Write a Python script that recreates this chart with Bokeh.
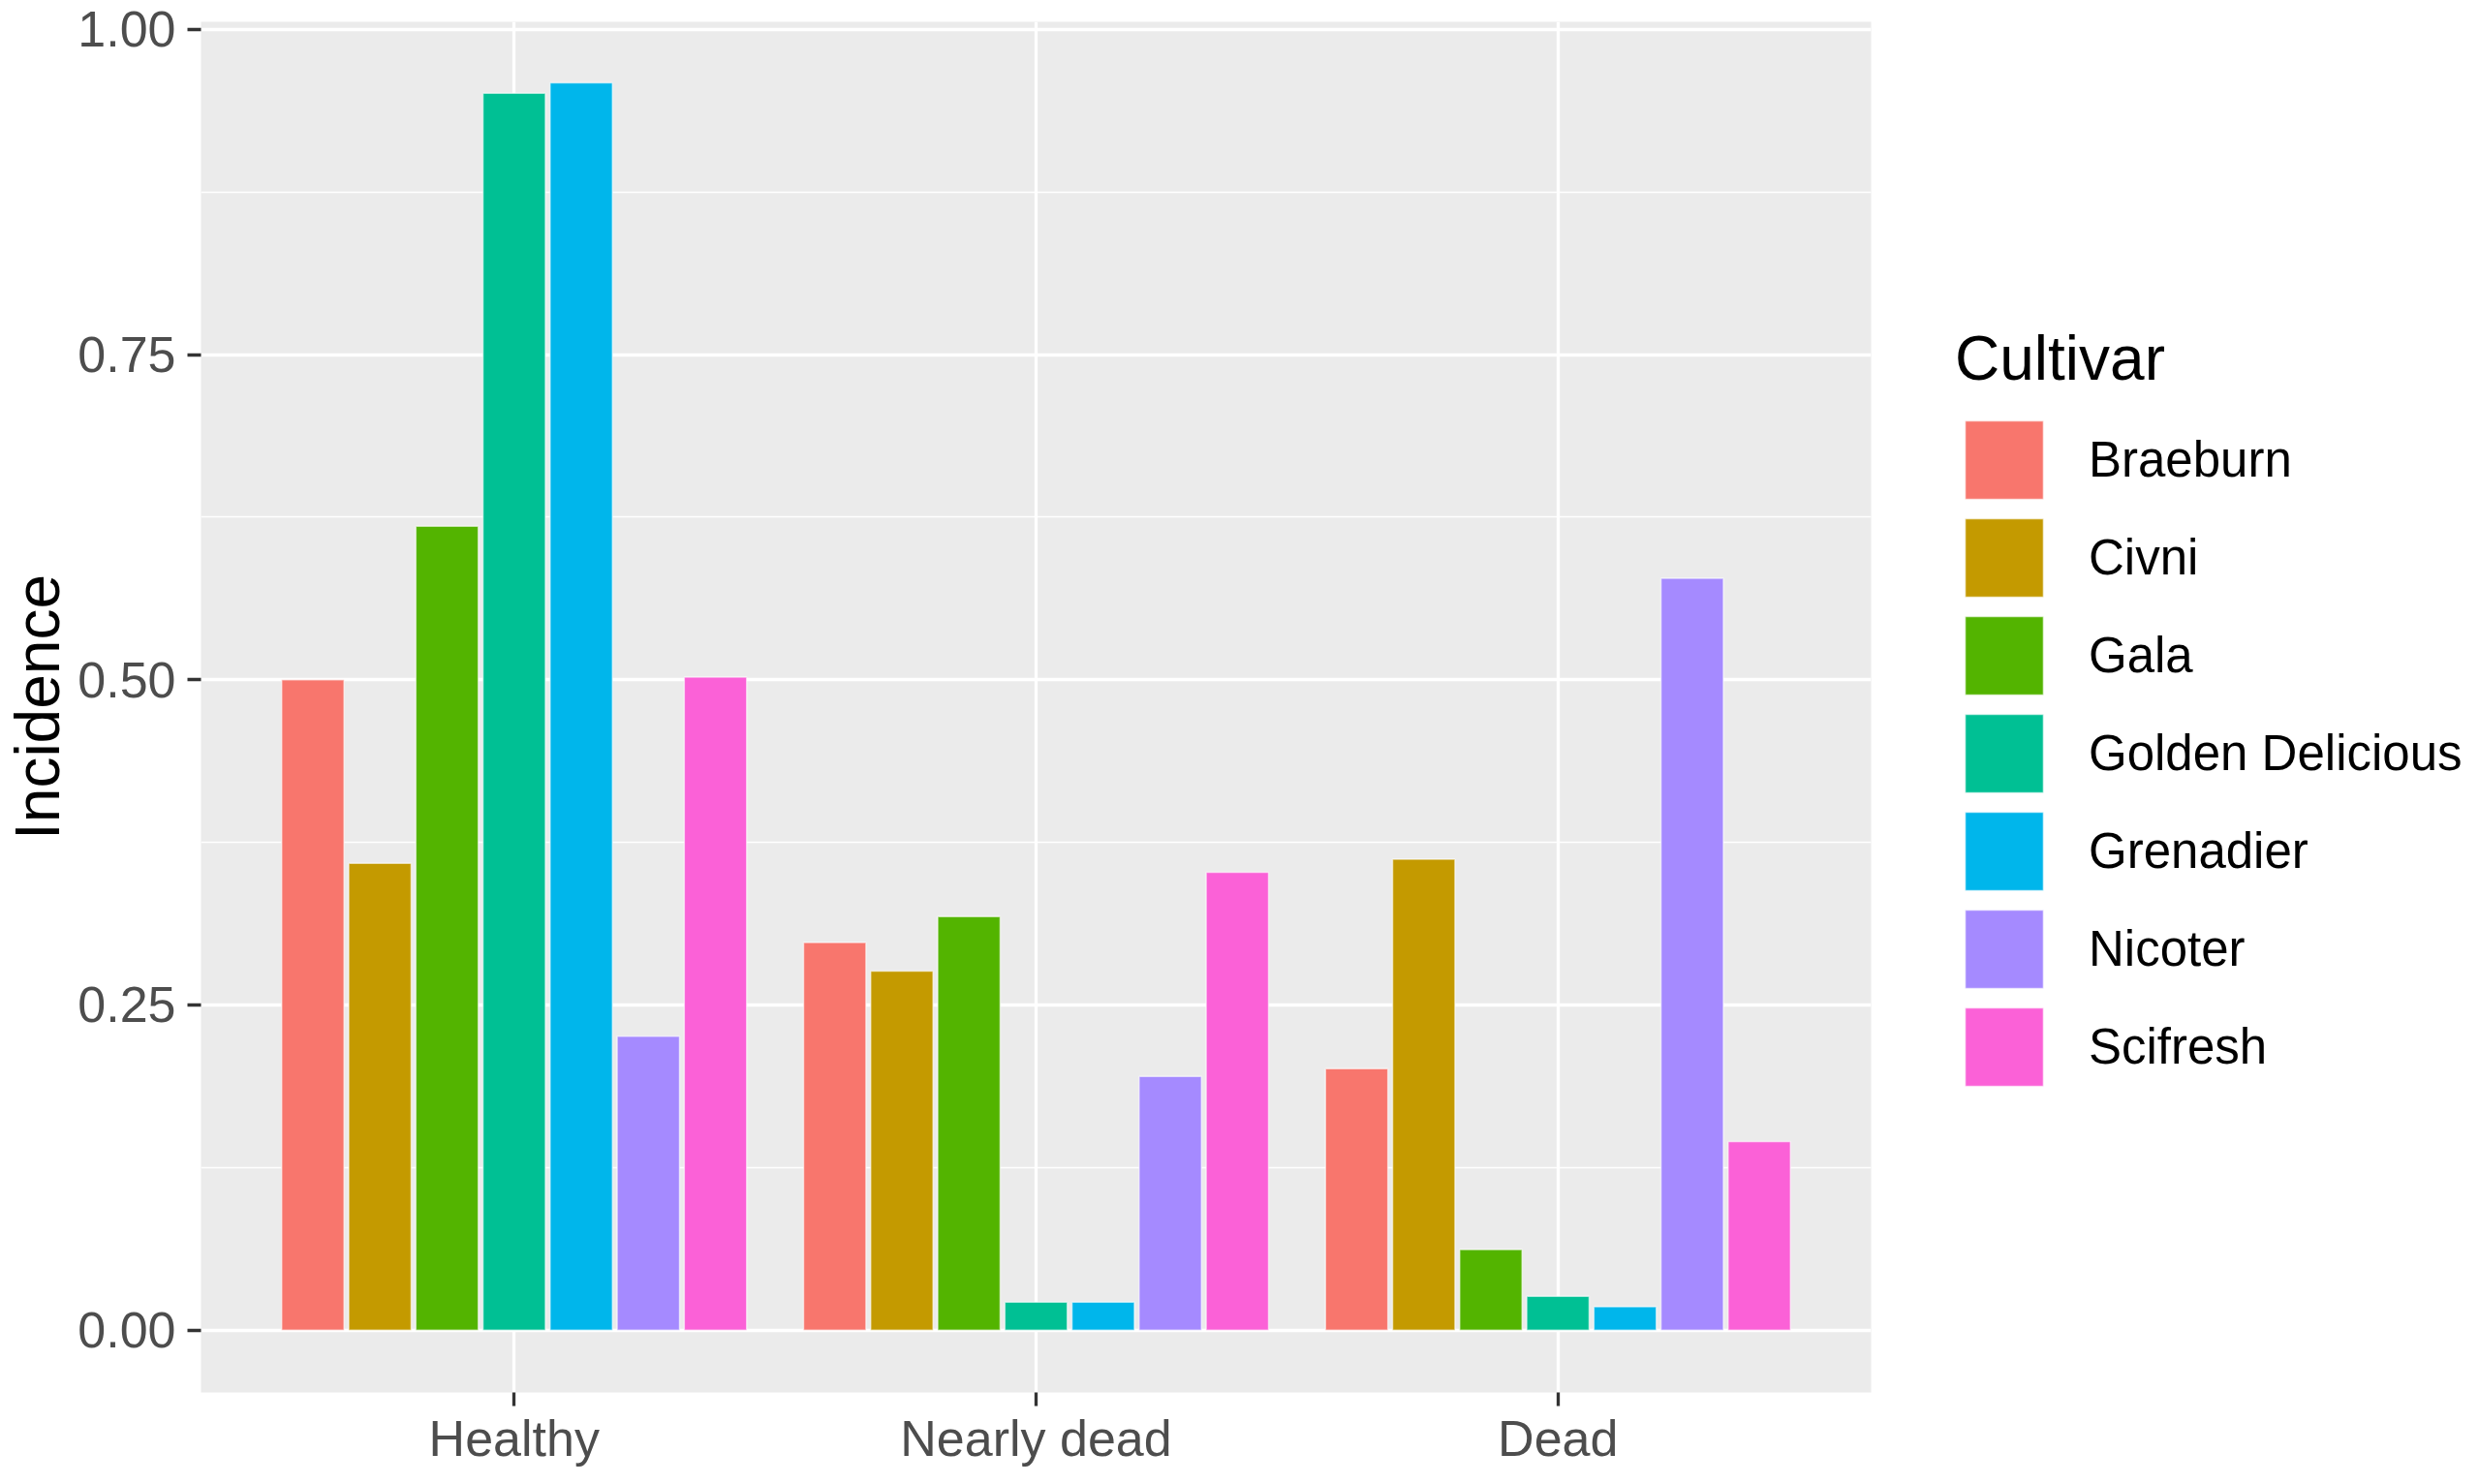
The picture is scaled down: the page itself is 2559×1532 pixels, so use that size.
from bokeh.plotting import figure
from bokeh.layouts import row
from bokeh.models import ColumnDataSource, Range1d, FactorRange, Legend, LegendItem, FixedTicker, NumeralTickFormatter
from bokeh.transform import dodge
from bokeh.embed import file_html
from bokeh.resources import INLINE

# ---- data ----
states = ["Healthy", "Nearly dead", "Dead"]
cultivars = ["Braeburn", "Civni", "Gala", "Golden Delicious", "Grenadier", "Nicoter", "Scifresh"]
colors = ["#F8766D", "#C49A00", "#53B400", "#00C094", "#00B6EB", "#A58AFF", "#FB61D7"]
braeburn = [0.500, 0.298, 0.201]
civni = [0.359, 0.276, 0.362]
gala = [0.618, 0.318, 0.062]
golden_delicious = [0.951, 0.0215, 0.026]
grenadier = [0.959, 0.0215, 0.018]
nicoter = [0.226, 0.195, 0.578]
scifresh = [0.502, 0.352, 0.145]
y_ticks = [0.0, 0.25, 0.50, 0.75, 1.00]
y_minor = [0.125, 0.375, 0.625, 0.875]

series = [braeburn, civni, gala, golden_delicious, grenadier, nicoter, scifresh]
data = {"state": states}
for name, vals in zip(cultivars, series):
    data[name] = vals
source = ColumnDataSource(data)

FONT = "Liberation Sans"
H = 1516
W_MAIN = 1936
W_LEG = 607

p = figure(
    width=W_MAIN, height=H,
    x_range=FactorRange(factors=states, range_padding=0.2 / 3),
    y_range=Range1d(-0.0479, 1.0059),
    output_backend="svg", toolbar_location=None,
    min_border_left=200, min_border_right=5, min_border_top=22, min_border_bottom=78,
)
p.background_fill_color = "#EBEBEB"
p.border_fill_color = "white"
p.outline_line_color = None

n = len(cultivars)
slot = 0.9 / n
for i, (name, col) in enumerate(zip(cultivars, colors)):
    off = (i - (n - 1) / 2) * slot
    p.vbar(x=dodge("state", off, range=p.x_range), top=name, bottom=0, width=slot - 0.009,
           source=source, fill_color=col, line_color="white", line_width=1.5, line_alpha=0.6)

# grids
p.xgrid.grid_line_color = "white"
p.xgrid.grid_line_width = 3.3
p.ygrid.grid_line_color = "white"
p.ygrid.grid_line_width = 3.3
p.ygrid.minor_grid_line_color = "white"
p.ygrid.minor_grid_line_width = 1.7

# axes
p.yaxis.ticker = FixedTicker(ticks=y_ticks, minor_ticks=y_minor)
p.yaxis.formatter = NumeralTickFormatter(format="0.00")
for ax in (p.xaxis[0], p.yaxis[0]):
    ax.axis_line_color = None
    ax.major_tick_line_color = "#333333"
    ax.major_tick_line_width = 3.3
    ax.major_tick_out = 14
    ax.major_tick_in = 0
    ax.minor_tick_line_color = None
    ax.major_label_text_font = FONT
    ax.major_label_text_font_size = "52px"
    ax.major_label_text_color = "#4D4D4D"
p.xaxis.major_label_standoff = 4
p.yaxis.major_label_standoff = 12
p.yaxis.axis_label = "Incidence"
p.yaxis.axis_label_text_font = FONT
p.yaxis.axis_label_text_font_size = "64px"
p.yaxis.axis_label_text_font_style = "normal"
p.yaxis.axis_label_text_color = "black"
p.yaxis.axis_label_standoff = 2

# ---- legend panel (separate canvas to the right of the plot) ----
lg = figure(width=W_LEG, height=H, x_range=Range1d(0, 1), y_range=Range1d(0, 1),
            output_backend="svg", toolbar_location=None,
            min_border_left=0, min_border_right=0, min_border_top=0, min_border_bottom=0)
lg.axis.visible = False
lg.grid.visible = False
lg.outline_line_color = None
lg.background_fill_color = "white"
lg.border_fill_color = "white"

# key renderers: one off-canvas point each, only used to draw the legend swatches
key_renderers = []
for col in colors:
    kr = lg.vbar(x=[5.0], top=[5.0], bottom=[4.0], width=0.1, fill_color=col,
                 line_color="white", line_width=1.5, line_alpha=0.6)
    key_renderers.append(kr)

legend = Legend(
    items=[LegendItem(label=c, renderers=[r]) for c, r in zip(cultivars, key_renderers)],
    title="Cultivar",
    location=(82, 306),
)
legend.title_text_font = FONT
legend.title_text_font_size = "64px"
legend.title_text_font_style = "normal"
legend.title_text_color = "black"
legend.title_standoff = 17
legend.label_text_font = FONT
legend.label_text_font_size = "51px"
legend.label_text_color = "black"
legend.glyph_width = 101
legend.glyph_height = 101
legend.spacing = 0
legend.label_standoff = 37
legend.padding = 0
legend.margin = 0
legend.border_line_color = None
legend.background_fill_alpha = 0
lg.add_layout(legend)

layout = row(p, lg, spacing=0)
open("out.html", "w").write(file_html(layout, INLINE))
